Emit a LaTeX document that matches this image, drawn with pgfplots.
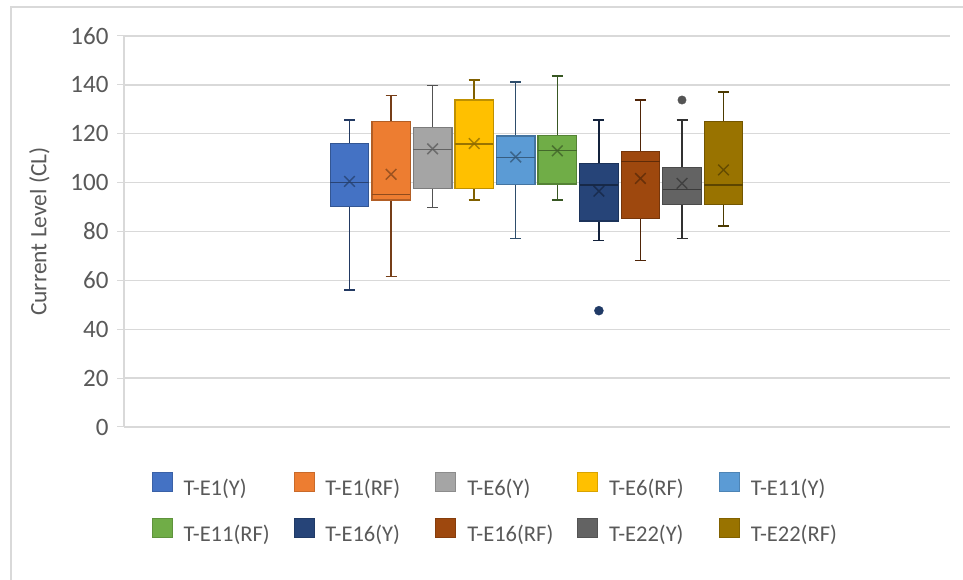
\documentclass[border=0pt]{standalone}
\usepackage{fontspec}
\setmainfont{Carlito}
\usepackage{pgfplots}
\pgfplotsset{compat=1.18}
\definecolor{c1}{HTML}{4472C4}
\definecolor{c2}{HTML}{ED7D31}
\definecolor{c3}{HTML}{A5A5A5}
\definecolor{c4}{HTML}{FFC000}
\definecolor{c5}{HTML}{5B9BD5}
\definecolor{c6}{HTML}{70AD47}
\definecolor{c7}{HTML}{264478}
\definecolor{c8}{HTML}{9E480E}
\definecolor{c9}{HTML}{636363}
\definecolor{c10}{HTML}{997300}
\definecolor{txt}{HTML}{595959}
\definecolor{gridc}{HTML}{D9D9D9}
\pgfplotsset{
  sqlegend/.style={legend image code/.code={\filldraw[##1] (0pt,-2pt) rectangle (20pt,17pt); \path (31pt,0pt);}},
}
% box: colour, position, lower whisker, lower quartile, median, upper quartile, upper whisker, mean
\newcommand{\bxp}[8]{%
  \pgfmathsetmacro{\bxL}{#2-19.25}\pgfmathsetmacro{\bxR}{#2+19.25}%
  \pgfmathsetmacro{\capL}{#2-5.5}\pgfmathsetmacro{\capR}{#2+5.5}%
  \addplot[forget plot, draw=#1!50!black, line width=1.5pt] coordinates {(#2,#3) (#2,#4)};
  \addplot[forget plot, draw=#1!50!black, line width=1.5pt] coordinates {(#2,#6) (#2,#7)};
  \addplot[forget plot, draw=#1!50!black, line width=1.5pt] coordinates {(\capL,#3) (\capR,#3)};
  \addplot[forget plot, draw=#1!50!black, line width=1.5pt] coordinates {(\capL,#7) (\capR,#7)};
  \addplot[forget plot, fill=#1, draw=#1!75!black, line width=1.3pt] coordinates {(\bxL,#4) (\bxR,#4) (\bxR,#6) (\bxL,#6)} -- cycle;
  \addplot[forget plot, draw=#1!60!black, line width=1.3pt] coordinates {(\bxL,#5) (\bxR,#5)};
  \addplot[forget plot, only marks, mark=x, mark size=7.5pt, draw=#1!55!black, draw opacity=0.75, line width=1.5pt] coordinates {(#2,#8)};
}
\begin{document}
\begin{tikzpicture}
\useasboundingbox (0pt,0pt) rectangle (963pt,580pt);
\fill[white] (0pt,0pt) rectangle (963pt,580pt);
\draw[gridc, line width=1.5pt] (11pt,0pt) -- (11pt,573pt) -- (963pt,573pt);
\begin{axis}[
  at={(124pt,153pt)}, anchor=south west,
  scale only axis, width=826pt, height=391pt,
  xmin=0, xmax=826, ymin=0, ymax=160,
  ytick={0,20,...,160}, xtick=\empty,
  ymajorgrids, grid style={draw=gridc, line width=1.3pt},
  axis x line*=bottom, axis y line*=left,
  axis line style={draw=gridc, line width=1.3pt, -},
  tick align=outside, major tick length=7pt,
  y tick style={draw=gridc, line width=1pt},
  /pgf/number format/assume math mode=true,
  yticklabel style={font=\fontsize{25}{25}\selectfont, color=txt, xshift=-5pt},
  ylabel={Current Level (CL)},
  every axis y label/.style={at={(axis description cs:-0.1023,0.5)}, rotate=90, anchor=center,
     font=\fontsize{23.5}{23.5}\selectfont, color=txt},
  clip=false,
  legend columns=5,
  legend style={at={(axis description cs:0.0335,-0.1151)}, anchor=north west, draw=none, fill=none,
     inner sep=0pt, row sep=17pt,
     font=\fontsize{22.5}{22.5}\selectfont, text=txt,
     nodes={inner sep=0pt, text width=110pt, text height=17pt, text depth=5pt, align=left}},
]
\bxp{c1}{225.5}{56}{90.1}{100.1}{116.1}{125.6}{100.5}
\bxp{c2}{267.1}{61.5}{92.9}{95.2}{124.9}{135.6}{103.4}
\bxp{c3}{308.6}{89.8}{97.7}{113.6}{122.5}{139.7}{113.8}
\bxp{c4}{350.2}{92.9}{97.7}{115.8}{133.8}{142}{116}
\bxp{c5}{391.7}{77.2}{99.3}{110.3}{119.1}{141.2}{110.5}
\bxp{c6}{433.3}{92.9}{99.4}{113.1}{119.2}{143.7}{113}
\bxp{c7}{474.9}{76.4}{84.3}{99}{107.7}{125.6}{96.5}
\bxp{c8}{516.4}{68.2}{85.4}{108.6}{112.8}{133.8}{101.7}
\bxp{c9}{558.0}{77.2}{91.1}{97.1}{106.1}{125.6}{99.7}
\bxp{c10}{599.5}{82.2}{91.1}{99}{124.9}{137.1}{105.2}
% outliers
\addplot[forget plot, only marks, mark=*, mark size=4.5pt, fill=c7!85!black, draw=c7!85!black] coordinates {(474.9,47.6)};
\addplot[forget plot, only marks, mark=*, mark size=4.2pt, fill=c9!85!black, draw=c9!85!black] coordinates {(558.0,133.8)};
\addlegendimage{sqlegend, fill=c1, draw=c1!85!black, line width=0.8pt}\addlegendentry{T-E1(Y)}
\addlegendimage{sqlegend, fill=c2, draw=c2!85!black, line width=0.8pt}\addlegendentry{T-E1(RF)}
\addlegendimage{sqlegend, fill=c3, draw=c3!85!black, line width=0.8pt}\addlegendentry{T-E6(Y)}
\addlegendimage{sqlegend, fill=c4, draw=c4!85!black, line width=0.8pt}\addlegendentry{T-E6(RF)}
\addlegendimage{sqlegend, fill=c5, draw=c5!85!black, line width=0.8pt}\addlegendentry{T-E11(Y)}
\addlegendimage{sqlegend, fill=c6, draw=c6!85!black, line width=0.8pt}\addlegendentry{T-E11(RF)}
\addlegendimage{sqlegend, fill=c7, draw=c7!85!black, line width=0.8pt}\addlegendentry{T-E16(Y)}
\addlegendimage{sqlegend, fill=c8, draw=c8!85!black, line width=0.8pt}\addlegendentry{T-E16(RF)}
\addlegendimage{sqlegend, fill=c9, draw=c9!85!black, line width=0.8pt}\addlegendentry{T-E22(Y)}
\addlegendimage{sqlegend, fill=c10, draw=c10!85!black, line width=0.8pt}\addlegendentry{T-E22(RF)}
\end{axis}
\end{tikzpicture}
\end{document}
